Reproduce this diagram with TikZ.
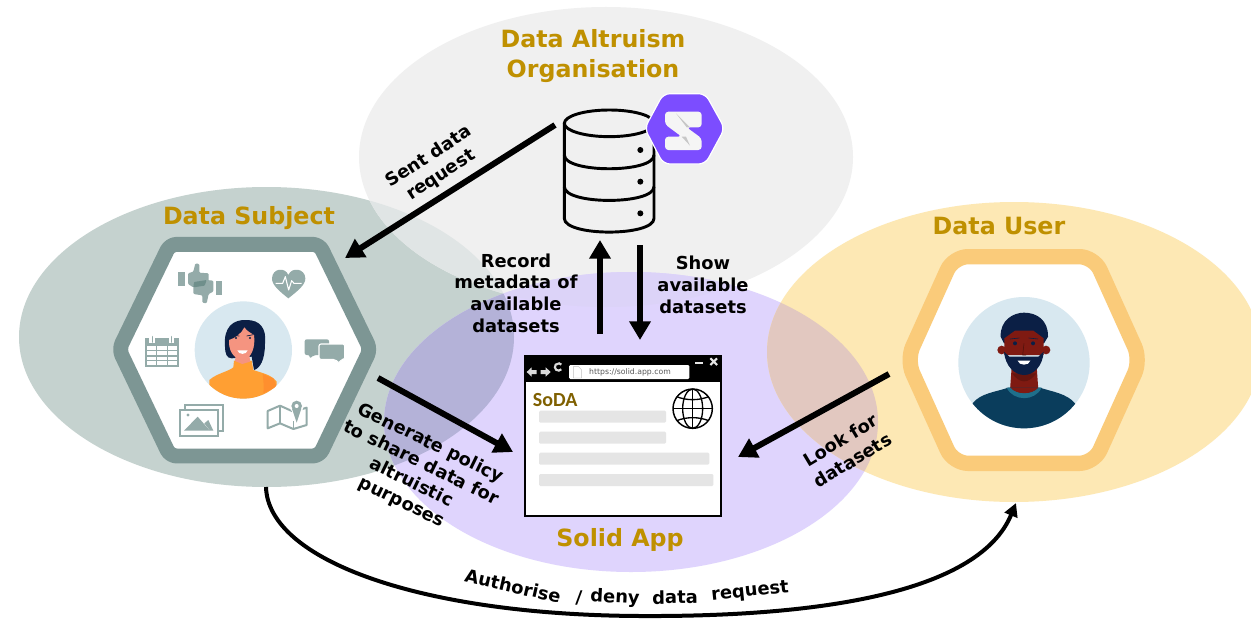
\documentclass[tikz,border=0pt]{standalone}
\usepackage{fontspec}
\setmainfont{DejaVu Sans}
\newfontfamily\carl{Carlito}
\usetikzlibrary{arrows.meta}
\definecolor{cgrey}{HTML}{F0F0F0}
\definecolor{cgreen}{HTML}{C5D2CF}
\definecolor{cgg}{HTML}{E0E5E5}
\definecolor{cpur}{HTML}{DFD4FD}
\definecolor{cpg}{HTML}{B4B2D8}
\definecolor{cpgr}{HTML}{DCD3F8}
\definecolor{cora}{HTML}{FDE8B4}
\definecolor{cpo}{HTML}{E2C8C0}
\definecolor{gold}{HTML}{BF9000}
\definecolor{hexg}{HTML}{7D9694}
\definecolor{hexo}{HTML}{FACB7A}
\definecolor{icon}{HTML}{94ABA9}
\definecolor{icond}{HTML}{6F8F8B}
\definecolor{skyb}{HTML}{D8E8F0}
\definecolor{navyh}{HTML}{0B1F45}
\definecolor{skinw}{HTML}{F59480}
\definecolor{orsw}{HTML}{FF9F33}
\definecolor{skinm}{HTML}{7F1A12}
\definecolor{shirt}{HTML}{0A3D5C}
\definecolor{collar}{HTML}{1F6F8B}
\definecolor{solidp}{HTML}{7C4DFF}
\definecolor{sodac}{HTML}{7F6000}
\definecolor{barc}{HTML}{E5E5E5}
\tikzset{
 title/.style={font=\fontsize{17.8}{22}\selectfont\bfseries,text=gold,align=center,inner sep=0pt},
 lab/.style={font=\fontsize{13.4}{16.3}\selectfont\bfseries,text=black,align=center,inner sep=0pt},
 bigarrow/.style={line width=4.5pt,-{Triangle[length=14pt,width=15.5pt]},black},
 zoomed/.style={x=.25pt,y=-.25pt},
 dbline/.style={line width=2.2pt,black},
}
\begin{document}
\begin{tikzpicture}[x=.75pt,y=-.75pt]
\useasboundingbox (0,0) rectangle (1251,624);
\fill[white] (0,0) rectangle (1251,624);
% --- ellipses
\def\eG{(606,157) ellipse [x radius=247,y radius=150]}
\def\eS{(266.5,337) ellipse [x radius=247.5,y radius=150]}
\def\eP{(631,422) ellipse [x radius=247,y radius=150]}
\def\eO{(1014,352) ellipse [x radius=247,y radius=150]}
\fill[cgreen] \eS;
\fill[cgrey] \eG;
\fill[cpur] \eP;
\fill[cora] \eO;
\begin{scope}\clip \eS; \fill[cgg] \eG; \end{scope}
\begin{scope}\clip \eG; \fill[cpgr] \eP; \end{scope}
\begin{scope}\clip \eS; \fill[cpg] \eP; \end{scope}
\begin{scope}\clip \eP; \fill[cpo] \eO; \end{scope}
% --- Data Subject hexagon and icons
\begin{scope}[shift={(110,230)},zoomed]
\draw[hexg,line width=11.2pt,fill=white,rounded corners=5pt,line join=round]
 (27,358) -- (180,43) -- (628,43) -- (781,358) -- (628,678) -- (180,678) -- cycle;
% thumbs
\fill[icon] (205,125) rectangle (225,168);
\fill[icon] (317,152) rectangle (337,195);
\fill[icon,rounded corners=.8pt] (234,130) -- (250,125) -- (256,100) -- (268,102) -- (268,128) -- (296,130) -- (296,152) -- (250,172) -- (234,162) -- cycle;
\fill[icon,rounded corners=.8pt] (310,152) -- (310,185) -- (296,192) -- (290,220) -- (277,218) -- (277,196) -- (250,192) -- (250,165) -- (290,150) -- cycle;
\fill[icond,rounded corners=.6pt] (252,156) -- (290,150) -- (284,167) -- (250,172) -- cycle;
% heart
\fill[icon] (535,205) .. controls (510,185) and (485,165) .. (486,145) .. controls (487,115) and (525,110) .. (535,135) .. controls (545,110) and (585,115) .. (586,145) .. controls (587,165) and (560,185) .. (535,205) -- cycle;
\draw[white,line width=.8pt,line join=round] (497,160) -- (518,160) -- (526,140) -- (536,180) -- (545,152) -- (552,160) -- (575,160);
% calendar
\draw[icon,line width=1.5pt] (108,327) rectangle (205,407);
\fill[icon] (108,327) rectangle (205,348);
\fill[white] (118,322) rectangle (135,338);
\fill[white] (176,322) rectangle (193,338);
\draw[icon,line width=1.2pt,line cap=round] (127,320) -- (127,336) (185,320) -- (185,336);
\foreach \yy in {362,378,392} \draw[icon,line width=1.2pt] (108,\yy) -- (205,\yy);
\foreach \xx in {140,172} \draw[icon,line width=1.2pt] (\xx,348) -- (\xx,407);
% chat
\fill[icon,rounded corners=1.5pt] (584,328) -- (657,328) -- (657,375) -- (612,375) -- (599,386) -- (599,375) -- (584,375) -- cycle;
\fill[icon,draw=white,line width=.8pt,rounded corners=1.5pt] (627,342) -- (704,342) -- (704,388) -- (692,388) -- (688,400) -- (675,388) -- (627,388) -- cycle;
% images
\draw[icon,line width=1.5pt] (226,524) rectangle (339,604);
\draw[icon,line width=1.5pt,fill=white] (209,539) rectangle (324,617);
\fill[icon] (222,602) -- (263,560) -- (285,585) -- (300,602) -- cycle;
\fill[icon] (283,580) -- (295,570) -- (310,602) -- (300,602) -- cycle;
\fill[icon] (234,555) circle[radius=5];
% map
\draw[icon,line width=1.5pt,line join=round,fill=white] (473,543) -- (510,527) -- (550,545) -- (590,533) -- (590,585) -- (550,597) -- (510,580) -- (473,595) -- cycle;
\draw[icon,line width=1.2pt] (510,527) -- (510,580) (550,545) -- (550,597);
\fill[white] (560,530) circle[radius=20];
\fill[white] (545,540) rectangle (575,572);
\fill[icon] (560,528) circle[radius=16];
\fill[icon] (546,536) -- (574,536) -- (560,578) -- cycle;
\fill[white] (560,528) circle[radius=6];
% woman
\fill[skyb] (400,360) circle[radius=146];
\begin{scope}
\clip (400,360) circle[radius=146];
\fill[navyh] (345,350) .. controls (340,290) and (370,268) .. (410,270) .. controls (450,270) and (470,295) .. (465,340) .. controls (465,390) and (450,415) .. (432,420) -- (425,380) -- (365,385) .. controls (350,385) and (345,370) .. (345,350) -- cycle;
\fill[orsw] (298,450) .. controls (320,430) and (355,425) .. (370,412) -- (372,392) -- (425,392) -- (430,420) .. controls (460,430) and (485,435) .. (500,455) -- (500,510) -- (298,510) -- cycle;
\fill[orsw!90!red] (458,432) .. controls (460,450) and (462,465) .. (460,490) -- (500,470) -- (490,445) -- cycle;
\fill[skinw] (378,370) -- (418,370) -- (420,395) -- (397,402) -- (375,393) -- cycle;
\end{scope}
\fill[skinw] (357,330) .. controls (375,325) and (395,310) .. (403,292) .. controls (412,305) and (425,310) .. (432,315) .. controls (437,350) and (425,388) .. (397,388) .. controls (370,388) and (355,360) .. (357,330) -- cycle;
\fill[navyh] (378,324) circle[radius=3.5] (420,324) circle[radius=3.5];
\draw[navyh,line width=.5pt] (367,316) -- (388,318) (410,318) -- (430,314);
\fill[white] (382,361) -- (413,361) .. controls (410,375) and (385,375) .. (382,361) -- cycle;
\end{scope}
% --- Data User hexagon and portrait
\begin{scope}[shift={(900,240)},zoomed]
\draw[hexo,line width=11.5pt,fill=white,rounded corners=11pt]
 (20,360) -- (160,50) -- (582,50) -- (722,360) -- (582,670) -- (160,670) -- cycle;
\fill[skyb] (372,368) circle[radius=197];
\begin{scope}
\clip (372,368) circle[radius=197];
\fill[skinm] (335,380) -- (410,380) -- (415,450) -- (330,450) -- cycle;
\fill[shirt] (218,490) .. controls (240,460) and (290,455) .. (325,443) -- (420,443) .. controls (455,455) and (500,460) .. (525,490) -- (525,575) -- (218,575) -- cycle;
\fill[collar] (320,443) .. controls (340,485) and (405,485) .. (425,443) -- (415,443) .. controls (395,465) and (350,465) .. (332,443) -- cycle;
\fill[skinm] (332,443) .. controls (350,465) and (395,465) .. (415,443) -- cycle;
\fill[skinm!80!black] (336,400) .. controls (360,432) and (385,432) .. (409,400) -- cycle;
\end{scope}
\fill[skinm] (305,330) circle[radius=13] (438,330) circle[radius=13];
\fill[navyh] (302,290) .. controls (300,240) and (340,218) .. (372,218) .. controls (410,218) and (445,240) .. (444,290) -- (432,310) -- (312,310) -- cycle;
\fill[skinm] (313,295) -- (345,272) -- (400,272) -- (431,295) -- (431,345) -- (313,345) -- cycle;
\fill[navyh] (312,335) -- (328,350) -- (415,350) -- (431,335) .. controls (428,380) and (400,405) .. (372,405) .. controls (345,405) and (316,380) .. (312,335) -- cycle;
\fill[white] (353,362) -- (391,362) .. controls (388,378) and (356,378) .. (353,362) -- cycle;
\fill[navyh] (345,310) circle[radius=6] (399,310) circle[radius=6];
\draw[navyh,line width=.45pt] (330,297) -- (358,294) (386,294) -- (414,297);
\draw[skinm!60!black,line width=.4pt] (372,310) -- (368,345) -- (378,345);
\end{scope}
% --- Database and Solid logo
\begin{scope}[shift={(550,85)},zoomed]
\draw[dbline] (178,115) ellipse [x radius=135,y radius=40];
\draw[dbline] (43,115) -- (43,400) .. controls (43,455) and (312,455) .. (312,400) -- (312,115);
\draw[dbline] (43,210) .. controls (43,265) and (312,265) .. (312,210);
\draw[dbline] (43,305) .. controls (43,360) and (312,360) .. (312,305);
\foreach \yy in {195,290,385} \fill[black] (271,\yy) circle[radius=9];
\fill[solidp,draw=white,line width=.9pt,rounded corners=5pt] (284,130) -- (340,26) -- (466,26) -- (524,130) -- (466,237) -- (340,237) -- cycle;
\fill[white!96!black,rounded corners=2.5pt] (345,80) -- (455,80) -- (455,127) -- (410,127) -- (455,160) -- (455,195) -- (345,195) -- (345,155) -- (395,155) -- (345,118) -- cycle;
\fill[black!22] (378,85) -- (420,127) -- (410,127) -- cycle;
\fill[black!22] (395,155) -- (420,182) -- (408,155) -- cycle;
\end{scope}
% --- Browser window
\begin{scope}[shift={(520,350)},zoomed]
\fill[white] (15,17) rectangle (603,497);
\fill[black] (15,17) rectangle (603,95);
\draw[black,line width=1.6pt] (15,17) rectangle (603,497);
\fill[white!85!black] (20,66) -- (35,52) -- (35,60) -- (50,60) -- (50,72) -- (35,72) -- (35,80) -- cycle;
\fill[white!85!black] (92,66) -- (77,52) -- (77,60) -- (62,60) -- (62,72) -- (77,72) -- (77,80) -- cycle;
\draw[white!85!black,line width=1.6pt] (124,58) arc[start angle=40,end angle=320,radius=11];
\fill[white,rounded corners=1pt] (147,45) rectangle (508,87);
\draw[black!25,fill=white,line width=.3pt] (160,50) -- (176,50) -- (185,60) -- (185,84) -- (160,84) -- cycle;
\node[name=urlt,font=\fontsize{5.8}{6}\selectfont,text=black!65,inner sep=0pt] at (330,66) {https://solid.app.com};
\draw[white!90!black,line width=1pt] (526,39) -- (548,39);
\draw[white!90!black,line width=1.6pt] (571,25) -- (591,45) (591,25) -- (571,45);
\node[name=sodat,font=\fontsize{15}{16}\selectfont\carl\bfseries,text=sodac,anchor=west,inner sep=0pt] at (38,150) {SoDA};
\fill[barc,rounded corners=1pt] (57,182) rectangle (438,218);
\fill[barc,rounded corners=1pt] (57,245) rectangle (438,281);
\fill[barc,rounded corners=1pt] (57,308) rectangle (568,344);
\fill[barc,rounded corners=1pt] (57,372) rectangle (580,408);
\draw[black,line width=1.1pt] (518,176) circle[radius=59];
\draw[black,line width=1pt] (518,117) -- (518,235) (459,176) -- (577,176);
\draw[black,line width=1pt] (518,176) ellipse [x radius=30,y radius=59];
\draw[black,line width=1pt] (470,140) .. controls (500,152) and (536,152) .. (566,140);
\draw[black,line width=1pt] (470,212) .. controls (500,200) and (536,200) .. (566,212);
\end{scope}
% --- Titles
\node[title] (tdao) at (593,56) {Data Altruism\\Organisation};
\node[title] (tsub) at (249,218) {Data Subject};
\node[title] (tusr) at (999,226) {Data User};
\node[title] (tapp) at (620,540) {Solid App};
% --- Labels
\node[lab,rotate=33] (lsent) at (435,166) {Sent data\\request};
\node[lab] (lrec) at (516,293) {Record\\metadata of\\available\\datasets};
\node[lab] (lshow) at (703,285) {Show\\available\\datasets};
\node[lab,rotate=-26] (lgen) at (416,473) {Generate policy\\to share data for\\altruistic\\purposes};
\node[lab,rotate=31,font=\fontsize{13.4}{17.5}\selectfont\bfseries] (llook) at (846.5,450) {Look for\\datasets};
\node[lab,rotate=-13] (la1) at (513,586) {Authorise};
\node[lab,rotate=-3] (la2) at (579,598) {/};
\node[lab,rotate=-3] (la3) at (615,598) {deny};
\node[lab,rotate=1] (la4) at (675,597) {data};
\node[lab,rotate=6] (la5) at (750,592) {request};
% --- Connector ends
\coordinate (a1s) at (555,125); \coordinate (a1e) at (345,258);
\coordinate (a2s) at (600,334); \coordinate (a2e) at (600,240);
\coordinate (a3s) at (640,245); \coordinate (a3e) at (640,340);
\coordinate (a4s) at (378,378); \coordinate (a4e) at (513,452);
\coordinate (a5s) at (889,374); \coordinate (a5e) at (738,457);
\coordinate (c1) at (266,487); \coordinate (cm) at (640,616); \coordinate (c2) at (1016,503);
\draw[bigarrow] (a1s) -- (a1e);
\draw[bigarrow] (a2s) -- (a2e);
\draw[bigarrow] (a3s) -- (a3e);
\draw[bigarrow] (a4s) -- (a4e);
\draw[bigarrow] (a5s) -- (a5e);
\draw[line width=3pt,black,-{Triangle[length=10pt,width=10pt]}] (c1) .. controls (268,560) and (420,615) .. (cm) .. controls (830,617) and (980,590) .. (c2);
\end{tikzpicture}
\end{document}
